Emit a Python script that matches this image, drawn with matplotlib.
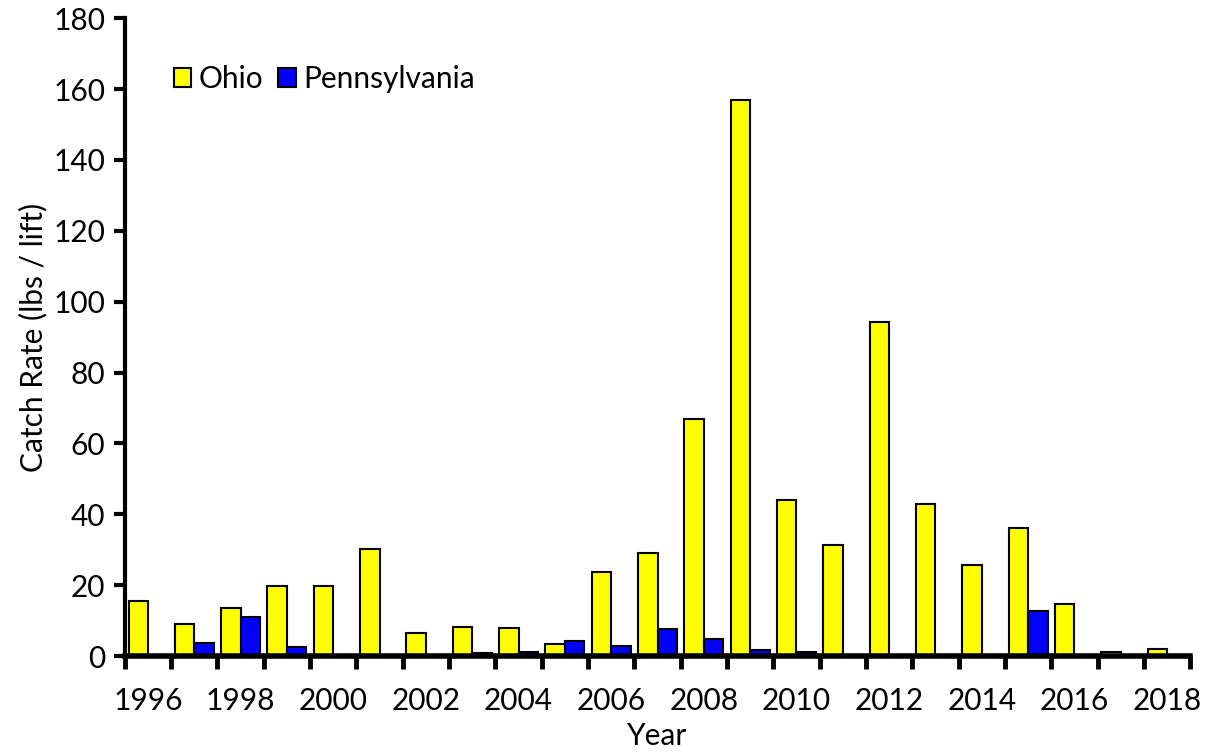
import matplotlib
matplotlib.use("Agg")
import matplotlib.pyplot as plt
import numpy as np
from matplotlib.ticker import FixedLocator

years = list(range(1996, 2019))
ohio = [15.6, 9.0, 13.6, 19.8, 19.8, 30.2, 6.4, 8.1, 7.8, 3.4, 23.7, 29.1, 67.0,
        156.8, 44.0, 31.4, 94.4, 42.9, 25.7, 36.2, 14.6, 1.2, 2.1]
penn = [0, 3.6, 11.1, 2.5, 0, 0, 0, 0.9, 1.2, 4.2, 2.8, 7.6, 4.9,
        1.6, 1.2, 0, 0, 0, 0, 12.8, 0, 0, 0]
series_names = ["Ohio", "Pennsylvania"]
colors = ["#FFFF00", "#0000FF"]
x_labels = [str(y) for y in years[::2]]

plt.rcParams['font.family'] = ['Lato', 'DejaVu Sans']
FS = 21.5

fig = plt.figure(figsize=(12.12, 7.55), dpi=100)
ax = fig.add_axes([0.103, 0.131, 0.879, 0.845])

x = np.arange(len(years))
w = 0.42
ax.bar(x - w/2, ohio, w, color=colors[0], edgecolor='black', linewidth=1.5, label=series_names[0], zorder=2)
ax.bar(x + w/2, penn, w, color=colors[1], edgecolor='black', linewidth=1.5, label=series_names[1], zorder=2)

ax.set_xlim(-0.5, len(years) - 0.5)
ax.set_ylim(0, 180)
ax.set_yticks(np.arange(0, 181, 20))
ax.tick_params(axis='y', direction='out', length=8, width=3, labelsize=FS, pad=6)

ax.set_xticks(x[::2])
ax.set_xticklabels(x_labels)
ax.tick_params(axis='x', which='major', length=0, labelsize=FS, pad=22)
ax.xaxis.set_minor_locator(FixedLocator(np.arange(-0.5, len(years), 1)))
ax.tick_params(axis='x', which='minor', direction='out', length=9, width=3.5)

for s in ['top', 'right']:
    ax.spines[s].set_visible(False)
ax.spines['left'].set_linewidth(3)
ax.spines['bottom'].set_linewidth(4)

ax.set_ylabel("Catch Rate (lbs / lift)", fontsize=FS, labelpad=4)
ax.set_xlabel("Year", fontsize=FS, labelpad=5)

leg = ax.legend(loc='upper left', bbox_to_anchor=(0.032, 0.95), ncol=2, frameon=False,
                fontsize=FS, handlelength=0.58, handleheight=0.58, handletextpad=0.25,
                columnspacing=0.5, borderpad=0)

fig.savefig("out.png", dpi=100)
